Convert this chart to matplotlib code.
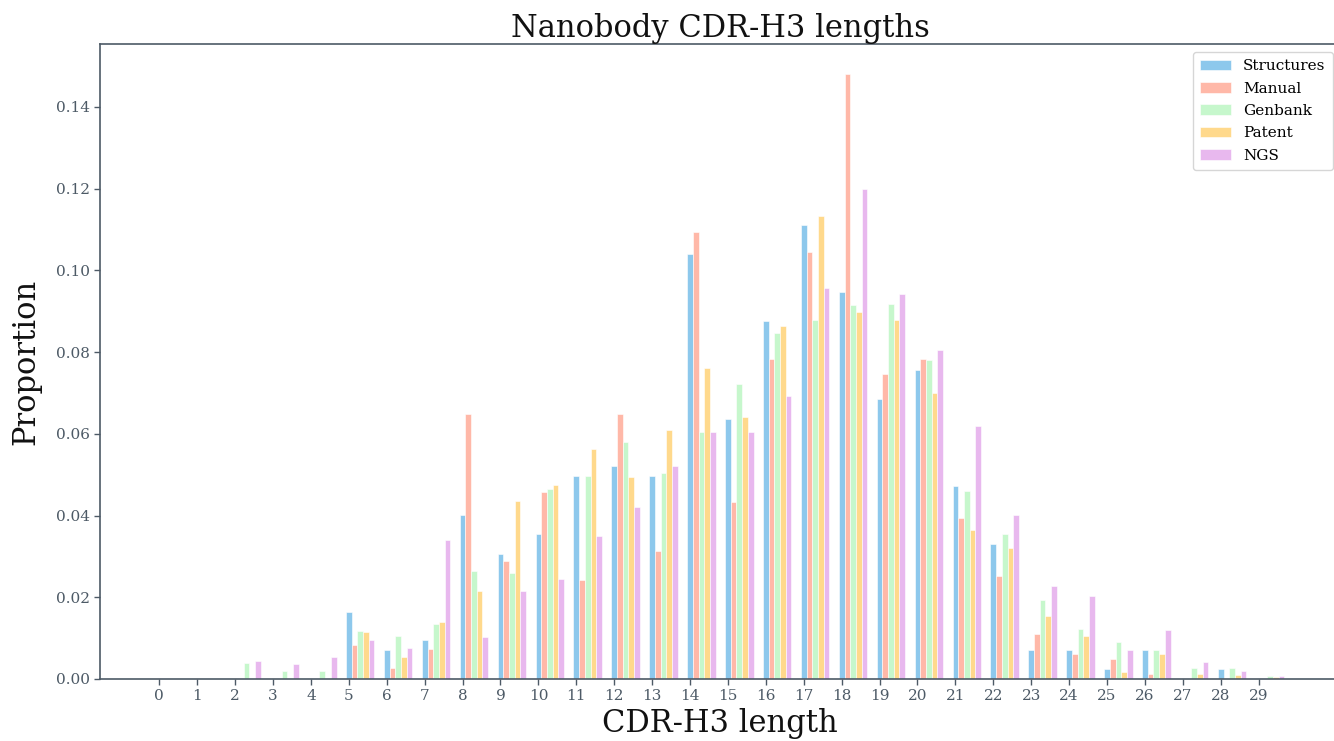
import numpy as np
import matplotlib
matplotlib.use("Agg")
import matplotlib.pyplot as plt

# CDR-H3 lengths 0..29
lengths = list(range(30))

structures = [0, 0, 0, 0, 0, 0.0165, 0.0071, 0.0095, 0.0402, 0.0307,
              0.0354, 0.0497, 0.0520, 0.0497, 0.1041, 0.0637, 0.0875, 0.1112, 0.0946, 0.0685,
              0.0756, 0.0473, 0.0330, 0.0070, 0.0070, 0.0024, 0.0070, 0, 0.0024, 0]
manual = [0, 0, 0, 0, 0, 0.0084, 0.0026, 0.0073, 0.0649, 0.0289,
          0.0457, 0.0241, 0.0649, 0.0312, 0.1095, 0.0433, 0.0783, 0.1045, 0.1480, 0.0746,
          0.0783, 0.0395, 0.0251, 0.0110, 0.0060, 0.0050, 0.0012, 0, 0, 0]
genbank = [0, 0, 0.0039, 0.0020, 0.0020, 0.0118, 0.0104, 0.0135, 0.0264, 0.0260,
           0.0465, 0.0496, 0.0580, 0.0504, 0.0605, 0.0722, 0.0846, 0.0878, 0.0916, 0.0917,
           0.0780, 0.0460, 0.0354, 0.0194, 0.0122, 0.0091, 0.0070, 0.0026, 0.0026, 0.0007]
patent = [0, 0, 0, 0, 0, 0.0115, 0.0055, 0.0139, 0.0215, 0.0436,
          0.0475, 0.0564, 0.0494, 0.0609, 0.0761, 0.0640, 0.0864, 0.1133, 0.0898, 0.0878,
          0.0701, 0.0365, 0.0320, 0.0153, 0.0104, 0.0018, 0.0062, 0.0012, 0.0010, 0.0005]
ngs = [0, 0, 0.0045, 0.0037, 0.0055, 0.0096, 0.0076, 0.0341, 0.0103, 0.0215,
       0.0244, 0.0349, 0.0420, 0.0522, 0.0604, 0.0605, 0.0693, 0.0957, 0.1199, 0.0941,
       0.0806, 0.0620, 0.0402, 0.0228, 0.0204, 0.0070, 0.0120, 0.0042, 0.0020, 0.0007]

series_names = ["Structures", "Manual", "Genbank", "Patent", "NGS"]
series_values = [structures, manual, genbank, patent, ngs]
colors = ["#8dc8ec", "#ffb8a8", "#c6f7cc", "#ffd98c", "#e8b8ee"]

plt.rcParams['font.family'] = ['DejaVu Serif']
axis_col = "#4d5a66"

fig = plt.figure(figsize=(13.34, 7.41), dpi=100)
ax = fig.add_axes([0.075, 0.0837, 0.930, 0.857])

x = np.array(lengths)
width = 0.15
for i, (name, vals, col) in enumerate(zip(series_names, series_values, colors)):
    ax.bar(x + i * width, vals, width=width, color=col, label=name,
           edgecolor="white", linewidth=0.4)

ax.set_xticks(x)
ax.set_xticklabels([str(v) for v in lengths])
ax.set_title("Nanobody CDR-H3 lengths", fontsize=22, color="#111111", pad=4)
ax.set_xlabel("CDR-H3 length", fontsize=22, color="#111111", labelpad=3)
ax.set_ylabel("Proportion", fontsize=22, color="#111111", labelpad=10)

for s in ax.spines.values():
    s.set_color(axis_col)
    s.set_linewidth(1.2)
ax.tick_params(colors=axis_col, labelsize=11, length=4, width=1.0)
for lbl in ax.get_xticklabels() + ax.get_yticklabels():
    lbl.set_color(axis_col)

leg = ax.legend(loc="upper right", fontsize=11, frameon=True,
                handlelength=2.0, labelspacing=0.55, borderpad=0.5)
leg.get_frame().set_edgecolor("#cccccc")

fig.savefig("out.png", dpi=100)
plt.close(fig)
